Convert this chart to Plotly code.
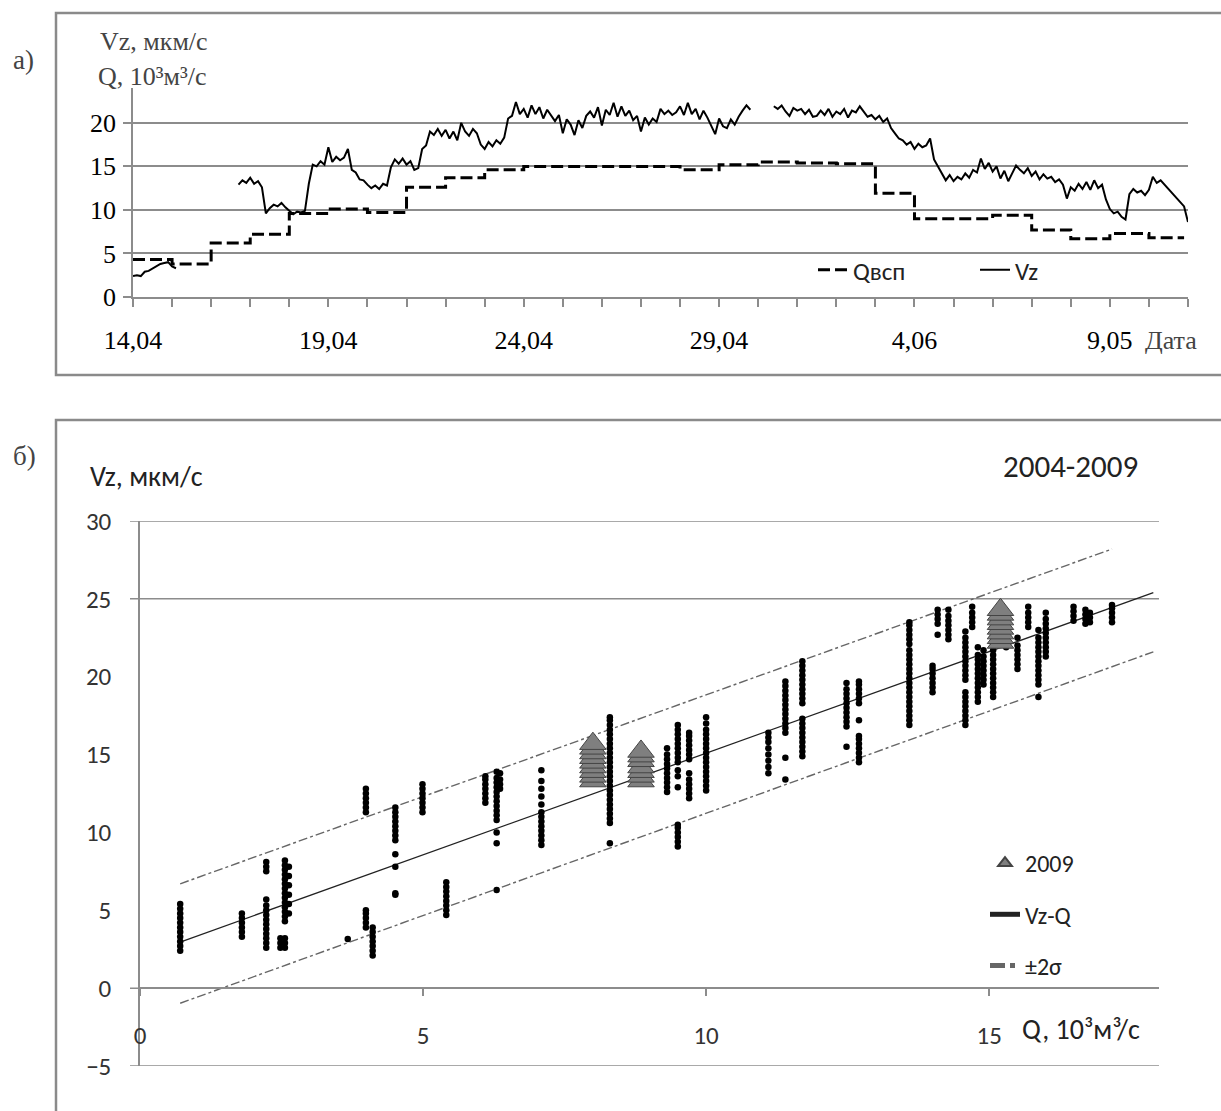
import plotly.graph_objects as go

# ---------------- panel a) data ----------------
day_tick_count = 28
date_label_days = [0, 5, 10, 15, 20, 25]
date_labels = ["14,04", "19,04", "24,04", "29,04", "4,06", "9,05"]

q_day = [0, 1, 2, 3, 4, 5, 6, 7, 8, 9, 10, 11, 12, 13, 14, 15, 16, 17, 18, 19,
         20, 21, 22, 23, 24, 25, 26, 26.9]
q_val = [4.3, 3.8, 6.2, 7.2, 9.6, 10.1, 9.7, 12.6, 13.7, 14.6, 15.0, 15.0, 15.0,
         15.0, 14.6, 15.2, 15.5, 15.4, 15.3, 11.9, 9.0, 9.0, 9.4, 7.7, 6.7, 7.3,
         6.8, 6.8]

N = None
# Vz sampled every 0.1 day starting 14.04 (one row = one day)
vz_val = [
    2.4, 2.5, 2.4, 2.9, 3.0, 3.3, 3.5, 3.8, 3.9, 4.0,
    3.5, 3.3, N, N, N, N, N, N, N, N,
    N, N, N, N, N, N, N, 12.9, 13.4, 13.1,
    13.7, 13.0, 13.3, 12.6, 9.6, 10.2, 10.6, 10.4, 10.8, 10.3,
    9.9, 9.5, 9.8, 9.7, 9.9, 13.0, 15.2, 15.0, 15.6, 15.2,
    17.2, 15.5, 16.1, 15.7, 16.0, 17.0, 14.6, 14.3, 13.5, 13.4,
    12.9, 12.5, 12.8, 12.4, 13.0, 12.8, 14.9, 15.8, 15.3, 15.9,
    15.2, 15.6, 14.6, 14.8, 17.0, 17.4, 19.0, 18.6, 19.3, 18.5,
    19.2, 18.2, 19.0, 18.0, 20.0, 19.0, 18.5, 19.3, 18.8, 17.5,
    17.0, 17.8, 17.3, 18.0, 17.6, 18.3, 20.5, 20.8, 22.4, 21.0,
    21.6, 20.6, 22.0, 21.0, 21.8, 20.5, 21.5, 20.8, 20.2, 20.9,
    18.8, 20.4, 19.8, 18.6, 20.3, 19.4, 20.8, 21.3, 20.6, 21.8,
    19.7, 21.5, 20.9, 22.3, 20.7, 21.9, 20.8, 21.4, 20.3, 20.8,
    19.0, 20.6, 19.8, 20.5, 20.1, 21.6, 21.0, 21.4, 20.9, 21.2,
    21.9, 20.9, 22.3, 21.0, 21.6, 20.4, 21.4, 20.6, 19.6, 18.7,
    20.5, 19.6, 19.4, 20.4, 19.8, 20.7, 21.4, 22.0, 21.5, N,
    N, N, N, N, 21.9, 21.6, 22.0, 21.3, 20.8, 21.7,
    21.4, 21.6, 21.0, 21.5, 20.7, 20.8, 21.4, 20.9, 21.6, 20.7,
    21.3, 21.0, 21.6, 20.6, 21.4, 21.2, 21.9, 21.3, 20.7, 20.9,
    20.4, 20.8, 20.1, 20.5, 19.4, 18.8, 18.2, 18.0, 17.5, 17.8,
    17.0, 17.6, 17.2, 17.4, 18.2, 15.8, 15.0, 14.1, 13.4, 14.0,
    13.3, 13.8, 13.5, 14.2, 13.7, 14.6, 14.3, 15.9, 14.7, 15.4,
    14.4, 15.0, 13.6, 14.5, 13.3, 14.2, 15.1, 14.6, 14.2, 14.8,
    13.9, 14.4, 13.5, 14.1, 13.6, 13.8, 13.2, 13.5, 12.9, 11.3,
    12.6, 12.2, 13.0, 12.4, 13.2, 12.3, 13.4, 12.5, 12.9, 11.2,
    10.1, 9.6, 9.8, 9.2, 8.9, 11.8, 12.4, 12.0, 12.2, 11.7,
    12.3, 13.8, 13.1, 13.4, 12.9, 12.4, 12.0, 11.5, 11.0, 10.4,
    8.6,
]
vz_day = [i / 10 for i in range(len(vz_val))]

# ---------------- panel б) data ----------------
col_q = [0.71, 1.80, 2.23, 2.48, 2.56, 2.63, 3.67, 3.99, 4.11, 4.51, 4.99, 5.41,
         6.10, 6.30, 6.36, 7.09, 8.30, 9.31, 9.50, 9.70, 10.00, 11.10, 11.40,
         11.70, 12.48, 12.70, 13.59, 14.00, 14.09, 14.28, 14.58, 14.70, 14.80,
         14.90, 15.07, 15.30, 15.50, 15.69, 15.87, 16.00, 16.49, 16.70, 16.78,
         17.17]
col_vz = [
    [2.4, 2.7, 3.0, 3.3, 3.6, 3.9, 4.2, 4.5, 4.8, 5.1, 5.4],
    [3.3, 3.6, 3.9, 4.2, 4.5, 4.8],
    [2.6, 2.9, 3.2, 3.5, 3.8, 4.1, 4.4, 4.7, 5.0, 5.3, 5.7, 7.5, 7.8, 8.1],
    [2.6, 2.9, 3.2],
    [2.6, 2.9, 3.2, 4.3, 4.6, 4.9, 5.2, 5.5, 5.8, 6.1, 6.4, 6.7, 7.0, 7.3, 7.6, 7.9, 8.2],
    [4.8, 5.4, 6.0, 6.6, 7.2, 7.8],
    [3.15],
    [3.9, 4.2, 4.5, 4.8, 5.0, 11.3, 11.6, 11.9, 12.2, 12.5, 12.8],
    [2.1, 2.4, 2.7, 3.0, 3.3, 3.6, 3.9],
    [6.0, 6.1, 7.8, 8.6, 9.5, 9.8, 10.1, 10.4, 10.7, 11.0, 11.3, 11.6],
    [11.3, 11.6, 11.9, 12.2, 12.5, 12.8, 13.1],
    [4.7, 5.0, 5.3, 5.6, 5.9, 6.2, 6.5, 6.8],
    [11.9, 12.2, 12.5, 12.8, 13.1, 13.4, 13.6],
    [6.3, 9.3, 10.0, 10.8, 11.1, 11.4, 11.7, 12.0, 12.3, 12.6, 12.9, 13.2, 13.5, 13.9],
    [12.8, 13.1, 13.4, 13.8],
    [9.2, 9.5, 9.8, 10.1, 10.4, 10.7, 11.0, 11.3, 11.8, 12.3, 12.8, 13.3, 14.0],
    [9.3, 10.6, 10.9, 11.2, 11.5, 11.8, 12.1, 12.4, 12.7, 13.0, 13.3, 13.6, 13.9,
     14.2, 14.5, 14.8, 15.1, 15.4, 15.7, 16.0, 16.3, 16.6, 16.9, 17.2, 17.4],
    [12.6, 12.9, 13.2, 13.5, 13.8, 14.1, 14.4, 14.7, 15.0, 15.4],
    [9.1, 9.4, 9.7, 10.0, 10.3, 10.5, 12.9, 13.6, 14.0, 14.5, 14.8, 15.1, 15.4,
     15.7, 16.0, 16.3, 16.6, 16.9],
    [12.2, 12.5, 12.8, 13.1, 13.4, 13.8, 14.7, 15.0, 15.3, 15.6, 15.9, 16.2, 16.4],
    [12.7, 13.0, 13.3, 13.6, 13.9, 14.2, 14.5, 14.8, 15.1, 15.4, 15.7, 16.0, 16.3,
     16.6, 17.0, 17.4],
    [13.8, 14.2, 14.6, 15.0, 15.4, 15.8, 16.1, 16.4],
    [13.4, 14.8, 16.4, 16.7, 17.0, 17.3, 17.6, 17.9, 18.2, 18.5, 18.8, 19.1, 19.4, 19.7],
    [14.9, 15.2, 15.5, 15.8, 16.1, 16.4, 16.7, 17.0, 17.3, 18.3, 18.6, 18.9, 19.2,
     19.5, 19.8, 20.1, 20.4, 20.7, 21.0],
    [15.5, 16.8, 17.1, 17.4, 17.7, 18.0, 18.3, 18.6, 18.9, 19.2, 19.6],
    [14.5, 14.8, 15.1, 15.4, 15.7, 16.0, 16.2, 17.2, 18.3, 18.6, 18.9, 19.2, 19.5, 19.7],
    [16.9, 17.2, 17.5, 17.8, 18.1, 18.4, 18.7, 19.0, 19.3, 19.6, 19.9, 20.2, 20.5,
     20.8, 21.1, 21.4, 21.7, 22.1, 22.4, 22.7, 23.0, 23.3, 23.5],
    [19.0, 19.3, 19.6, 19.9, 20.2, 20.5, 20.7],
    [22.7, 23.4, 23.7, 24.0, 24.3],
    [22.4, 22.7, 23.0, 23.3, 23.6, 23.9, 24.3],
    [16.9, 17.2, 17.5, 17.8, 18.1, 18.4, 18.7, 19.0, 19.8, 20.1, 20.4, 20.7, 21.0,
     21.3, 21.6, 21.9, 22.2, 22.5, 22.9],
    [23.2, 23.5, 23.8, 24.1, 24.5],
    [18.4, 18.7, 19.0, 19.3, 19.6, 19.9, 20.2, 20.5, 20.8, 21.1, 21.4, 21.9],
    [19.5, 19.8, 20.1, 20.4, 20.7, 21.0, 21.3, 21.7],
    [18.7, 19.0, 19.3, 19.6, 19.9, 20.2, 20.5, 20.8, 21.1, 21.4, 21.7, 22.0, 22.3, 22.6],
    [21.9, 22.2, 22.5, 22.8, 23.2],
    [20.5, 20.8, 21.1, 21.4, 21.7, 22.0, 22.5],
    [23.2, 23.5, 23.8, 24.1, 24.5],
    [18.7, 19.5, 19.8, 20.1, 20.4, 20.7, 21.0, 21.3, 21.6, 21.9, 22.2, 22.5, 23.0],
    [21.3, 21.6, 21.9, 22.2, 22.5, 22.8, 23.1, 23.4, 23.7, 24.1],
    [23.6, 23.9, 24.2, 24.5],
    [23.4, 23.7, 24.0, 24.3],
    [23.5, 23.8, 24.1],
    [23.5, 23.8, 24.1, 24.4, 24.6],
]

tri_q = [8.0, 8.0, 8.0, 8.0, 8.0, 8.0, 8.0, 8.0, 8.0,
         8.85, 8.85, 8.85, 8.85, 8.85, 8.85, 8.85,
         15.2, 15.2, 15.2, 15.2, 15.2, 15.2, 15.2, 15.2]
tri_vz = [13.3, 13.6, 13.9, 14.2, 14.5, 14.8, 15.1, 15.4, 15.7,
          13.3, 13.6, 13.9, 14.2, 14.6, 14.9, 15.2,
          22.2, 22.5, 22.8, 23.1, 23.4, 23.7, 24.0, 24.3]

fit_q = [0.71, 17.9]
fit_vz = [2.96, 25.4]
band_q = [0.71, 17.17, None, 0.71, 17.9]
band_vz = [6.7, 28.2, None, -0.97, 21.6]

y2_ticks = [-5, 0, 5, 10, 15, 20, 25, 30]
y2_grid = [-5, 0, 25, 30]
x2_ticks = [0, 5, 10, 15]

# ---------------- figure ----------------
W, H = 1221, 1111


def fx(p):
    return p / W


def fy(p):
    return 1 - p / H


SERIF = "Liberation Serif, Times New Roman, serif"
SANS = "Carlito, Lato, Noto Sans, sans-serif"
GRID = "#8c8c8c"

pts_q, pts_vz = [], []
for q, vals in zip(col_q, col_vz):
    for v in vals:
        pts_q.append(q)
        pts_vz.append(v)

fig = go.Figure()

fig.add_trace(go.Scatter(
    x=q_day, y=q_val, mode="lines", name="Qвсп",
    line=dict(color="black", width=3, dash="12px,5px", shape="hv"),
    xaxis="x", yaxis="y", legend="legend"))
fig.add_trace(go.Scatter(
    x=vz_day, y=vz_val, mode="lines", name="Vz", connectgaps=False,
    line=dict(color="black", width=2),
    xaxis="x", yaxis="y", legend="legend"))

fig.add_trace(go.Scatter(
    x=band_q, y=band_vz, mode="lines", name="±2σ", connectgaps=False,
    line=dict(color="#666666", width=1.4, dash="dashdot"),
    xaxis="x2", yaxis="y2", legend="legend2", legendgroup="c", legendrank=3))
fig.add_trace(go.Scatter(
    x=fit_q, y=fit_vz, mode="lines", name="Vz-Q",
    line=dict(color="#222222", width=1.3),
    xaxis="x2", yaxis="y2", legend="legend2", legendgroup="b", legendrank=2))
fig.add_trace(go.Scatter(
    x=pts_q, y=pts_vz, mode="markers", name="2004-2009", showlegend=False,
    marker=dict(color="black", size=6.5),
    xaxis="x2", yaxis="y2"))
fig.add_trace(go.Scatter(
    x=tri_q, y=tri_vz, mode="markers", name="2009",
    marker=dict(symbol="triangle-up", size=23, color="#7f7f7f",
                line=dict(color="#444444", width=1)),
    xaxis="x2", yaxis="y2", legend="legend2", legendgroup="a", legendrank=1))

tick_text = []
for d in range(day_tick_count):
    tick_text.append(date_labels[date_label_days.index(d)] if d in date_label_days else "")

shapes = [
    dict(type="rect", xref="paper", yref="paper", x0=fx(56), x1=fx(1240),
         y0=fy(375), y1=fy(13), line=dict(color="#8a8a8a", width=2.5)),
    dict(type="rect", xref="paper", yref="paper", x0=fx(56), x1=fx(1240),
         y0=fy(1130), y1=fy(420), line=dict(color="#8a8a8a", width=2.5)),
]
for g in y2_grid:
    shapes.append(dict(type="line", xref="paper", yref="y2", x0=fx(130), x1=fx(1159),
                       y0=g, y1=g, line=dict(color=GRID, width=1.5), layer="below"))

ann = [
    dict(text="а)", x=fx(11), y=fy(60), xanchor="left", font=dict(family=SERIF, size=27)),
    dict(text="б)", x=fx(11), y=fy(456), xanchor="left", font=dict(family=SERIF, size=27)),
    dict(text="Vz, мкм/с", x=fx(98), y=fy(42), xanchor="left", font=dict(family=SERIF, size=26)),
    dict(text="Q, 10³м³/с", x=fx(96), y=fy(76), xanchor="left", font=dict(family=SERIF, size=26)),
    dict(text="Дата", x=fx(1143), y=fy(340), xanchor="left", font=dict(family=SERIF, size=26)),
    dict(text="Vz, мкм/с", x=fx(88), y=fy(476), xanchor="left", font=dict(family=SANS, size=28, color="#222")),
    dict(text="2004-2009", x=fx(1070), y=fy(466), xanchor="center", font=dict(family=SANS, size=31, color="#222")),
    dict(text="Q, 10³м³/с", x=fx(1020), y=fy(1029), xanchor="left", font=dict(family=SANS, size=28, color="#222")),
]
for a in ann:
    a.update(xref="paper", yref="paper", showarrow=False, yanchor="middle")

fig.update_layout(
    template="none",
    width=W, height=H, autosize=False,
    margin=dict(l=0, r=0, t=0, b=0, pad=0, autoexpand=False),
    paper_bgcolor="white", plot_bgcolor="white",
    shapes=shapes, annotations=ann,
    xaxis=dict(domain=[fx(133), fx(1188)], range=[0, 27], anchor="y", automargin=False,
               tickmode="array", tickvals=list(range(day_tick_count)), ticktext=tick_text,
               ticks="outside", ticklen=8, tickwidth=1.5, tickcolor=GRID,
               showline=True, linecolor=GRID, linewidth=1.5,
               showgrid=False, zeroline=False, ticklabelstandoff=11,
               tickfont=dict(family=SERIF, size=26, color="black")),
    yaxis=dict(domain=[fy(297), fy(88)], range=[0, 24], anchor="x", automargin=False,
               tickmode="array", tickvals=[0, 5, 10, 15, 20],
               ticks="outside", ticklen=8, tickwidth=1.5, tickcolor=GRID,
               showline=True, linecolor=GRID, linewidth=1.5,
               showgrid=True, gridcolor=GRID, gridwidth=1.5, zeroline=False,
               ticklabelstandoff=2,
               tickfont=dict(family=SERIF, size=26, color="black")),
    xaxis2=dict(domain=[fx(140), fx(1159)], range=[0, 18], anchor="free", automargin=False,
                position=fy(988), tickmode="array", tickvals=x2_ticks,
                ticks="outside", ticklen=7, tickwidth=1.5, tickcolor=GRID,
                showline=True, linecolor=GRID, linewidth=1.5,
                showgrid=False, zeroline=False, ticklabelstandoff=18,
                tickfont=dict(family=SANS, size=25, color="#333")),
    yaxis2=dict(domain=[fy(1066), fy(521)], range=[-5, 30], anchor="x2", automargin=False,
                tickmode="array", tickvals=y2_ticks, ticks="",
                showline=True, linecolor=GRID, linewidth=1.5,
                showgrid=False, zeroline=False, ticklabelstandoff=22,
                tickfont=dict(family=SANS, size=25, color="#333")),
    legend=dict(orientation="h", x=fx(813), y=fy(270), xanchor="left", yanchor="middle",
                font=dict(family=SANS, size=25, color="#222"), bgcolor="rgba(0,0,0,0)",
                entrywidth=117, entrywidthmode="pixels"),
    legend2=dict(orientation="v", x=fx(985), y=fy(841), xanchor="left", yanchor="top",
                 font=dict(family=SANS, size=24, color="#222"), bgcolor="rgba(0,0,0,0)",
                 tracegroupgap=17, itemsizing="constant"),
)

fig.write_html("out.html", config={"displayModeBar": False},
               post_script="document.body.style.margin='0';")
